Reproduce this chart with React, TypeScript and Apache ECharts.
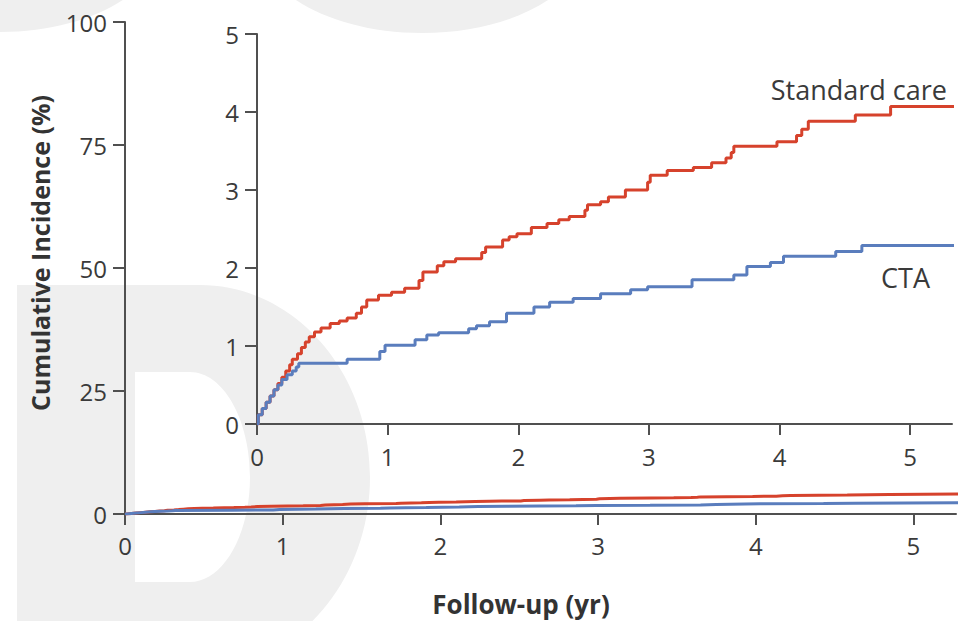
import React, { useEffect, useRef } from "react";
import * as echarts from "echarts";

// ---- data ----
const xTicks = [0, 1, 2, 3, 4, 5];
const mainYTicks = [0, 25, 50, 75, 100];
const insetYTicks = [0, 1, 2, 3, 4, 5];
const seriesNames = ["Standard care", "CTA"];

// Standard care: [follow-up yr, cumulative incidence %] (step, value from t onward)
const standardCare: [number, number][] = [
  [0, 0], [0.01, 0.12], [0.04, 0.2], [0.07, 0.28], [0.1, 0.36], [0.13, 0.44],
  [0.16, 0.52], [0.19, 0.6], [0.22, 0.68], [0.25, 0.76], [0.27, 0.83],
  [0.31, 0.9], [0.34, 0.98], [0.37, 1.05], [0.4, 1.12], [0.44, 1.18],
  [0.49, 1.23], [0.56, 1.29], [0.63, 1.32], [0.69, 1.36], [0.76, 1.42],
  [0.8, 1.5], [0.84, 1.59], [0.93, 1.65], [1.03, 1.69], [1.13, 1.74],
  [1.24, 1.84], [1.27, 1.95], [1.38, 2.03], [1.43, 2.08], [1.52, 2.12],
  [1.72, 2.2], [1.75, 2.27], [1.88, 2.36], [1.93, 2.4], [1.99, 2.44],
  [2.1, 2.52], [2.22, 2.57], [2.31, 2.62], [2.39, 2.66], [2.51, 2.74],
  [2.53, 2.81], [2.63, 2.85], [2.69, 2.91], [2.82, 3.0], [2.99, 3.1],
  [3.01, 3.19], [3.14, 3.25], [3.34, 3.29], [3.48, 3.35], [3.59, 3.41],
  [3.63, 3.48], [3.65, 3.56], [3.98, 3.62], [4.13, 3.7], [4.17, 3.78],
  [4.22, 3.88], [4.58, 3.96], [4.85, 4.07], [5.35, 4.07],
];

// CTA
const cta: [number, number][] = [
  [0, 0], [0.01, 0.12], [0.04, 0.2], [0.07, 0.28], [0.1, 0.36], [0.13, 0.44],
  [0.16, 0.5], [0.19, 0.57], [0.23, 0.63], [0.27, 0.68], [0.3, 0.73],
  [0.32, 0.78], [0.69, 0.83], [0.94, 0.93], [0.98, 1.01], [1.21, 1.08],
  [1.3, 1.14], [1.39, 1.17], [1.62, 1.22], [1.68, 1.26], [1.78, 1.31],
  [1.91, 1.42], [2.12, 1.5], [2.24, 1.56], [2.42, 1.61], [2.63, 1.67],
  [2.86, 1.72], [2.99, 1.76], [3.33, 1.85], [3.65, 1.91], [3.75, 2.02],
  [3.93, 2.07], [4.03, 2.15], [4.43, 2.21], [4.63, 2.29], [5.35, 2.29],
];

const RED = "#d6422c";
const BLUE = "#5a7dbd";
const AXIS = "#505050";
const TEXT = "#3a3a3a";
const FONT = "'Open Sans', 'DejaVu Sans', sans-serif";

const D_PATH =
  "M17 285 L200 285 C294 285 370 371 370 477 C370 583 294 669 200 669 L17 669 Z " +
  "M135 372 L135 582 L190 582 C223 582 250 535 250 477 C250 419 223 372 190 372 Z";

let registered = false;

export default function App() {
  const ref = useRef<HTMLDivElement>(null);

  useEffect(() => {
    document.body.style.margin = "0";
    if (!registered) {
      echarts.graphic.registerShape("wmD", echarts.graphic.extendPath(D_PATH, {}));
      registered = true;
    }
    const chart = echarts.init(ref.current!, null, { renderer: "svg" });

    const axisLine = { show: true, lineStyle: { color: AXIS, width: 2 } };
    const axisTick = (len: number) => ({ show: true, length: len, lineStyle: { color: AXIS, width: 2 } });
    const label = (margin: number) => ({ fontSize: 24, color: TEXT, fontFamily: FONT, margin });

    const mkSeries = (data: [number, number][], color: string, idx: number, name: string) => ({
      type: "line",
      name,
      data,
      step: "end",
      showSymbol: false,
      symbol: "none",
      xAxisIndex: idx,
      yAxisIndex: idx,
      clip: true,
      lineStyle: { color, width: 3 },
      itemStyle: { color },
      z: 3,
    });

    chart.setOption({
      animation: false,
      backgroundColor: "#ffffff",
      grid: [
        { left: 125, top: 22, width: 831, height: 492 },
        { left: 257, top: 34, width: 695, height: 390 },
      ],
      xAxis: [
        {
          gridIndex: 0, type: "value", min: 0, max: 5.27, interval: 1,
          axisLine, axisTick: { ...axisTick(11), customValues: xTicks },
          axisLabel: { ...label(19), customValues: xTicks },
          splitLine: { show: false },
        },
        {
          gridIndex: 1, type: "value", min: 0, max: 5.32, interval: 1,
          axisLine, axisTick: { ...axisTick(11), customValues: xTicks },
          axisLabel: { ...label(20), customValues: xTicks },
          splitLine: { show: false },
        },
      ],
      yAxis: [
        {
          gridIndex: 0, type: "value", min: 0, max: 100, interval: 25,
          axisLine, axisTick: { ...axisTick(12), customValues: mainYTicks },
          axisLabel: { ...label(18), customValues: mainYTicks },
          splitLine: { show: false },
        },
        {
          gridIndex: 1, type: "value", min: 0, max: 5, interval: 1,
          axisLine, axisTick: { ...axisTick(12), customValues: insetYTicks },
          axisLabel: { ...label(18), customValues: insetYTicks },
          splitLine: { show: false },
        },
      ],
      series: [
        mkSeries(standardCare, RED, 0, seriesNames[0]),
        mkSeries(cta, BLUE, 0, seriesNames[1]),
        mkSeries(standardCare, RED, 1, seriesNames[0]),
        mkSeries(cta, BLUE, 1, seriesNames[1]),
      ],
      graphic: [
        { type: "ellipse", z: -10, silent: true, shape: { cx: 0, cy: -60, rx: 162, ry: 92 }, style: { fill: "#efefef" } },
        { type: "ellipse", z: -10, silent: true, shape: { cx: 422, cy: -60, rx: 165, ry: 93 }, style: { fill: "#efefef" } },
        { type: "wmD", z: -10, silent: true, x: 0, y: 0, style: { fill: "#efefef" } },
        {
          type: "text", x: 947, y: 89, z: 10,
          style: { text: seriesNames[0], fill: TEXT, font: `27px ${FONT}`, textAlign: "right", textVerticalAlign: "middle" },
        },
        {
          type: "text", x: 930, y: 277, z: 10,
          style: { text: seriesNames[1], fill: TEXT, font: `27px ${FONT}`, textAlign: "right", textVerticalAlign: "middle" },
        },
        {
          type: "text", x: 40, y: 253, rotation: Math.PI / 2, z: 10,
          style: { text: "Cumulative Incidence (%)", fill: "#333", font: `bold 25px ${FONT}`, textAlign: "center", textVerticalAlign: "middle" },
        },
        {
          type: "text", x: 521, y: 604, z: 10,
          style: { text: "Follow-up (yr)", fill: "#333", font: `bold 26px ${FONT}`, textAlign: "center", textVerticalAlign: "middle" },
        },
      ],
    });

    return () => chart.dispose();
  }, []);

  return <div ref={ref} style={{ width: 968, height: 621 }} />;
}
